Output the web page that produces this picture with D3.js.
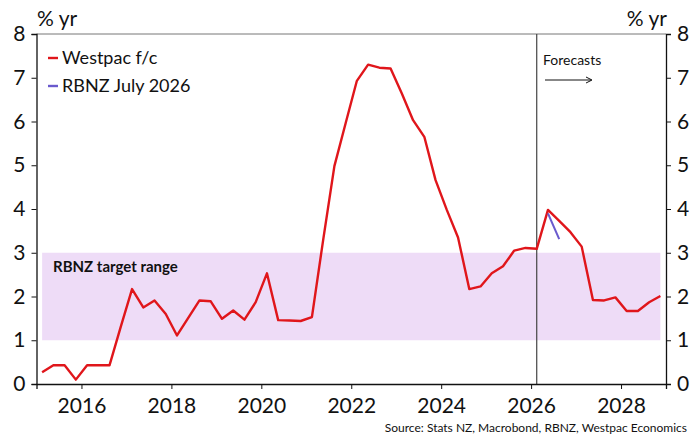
<!DOCTYPE html>
<html>
<head>
<meta charset="utf-8">
<script src="https://cdn.jsdelivr.net/npm/d3@7"></script>
<style>
  body { margin: 0; background: #fff; }
  svg text { font-family: Lato, "Open Sans", sans-serif; fill: #111; }
</style>
</head>
<body>
<div id="chart"></div>
<script>
// quarterly, starting 2015 Q1
const startYear = 2015;
const westpac = [
  0.27, 0.43, 0.43, 0.10,
  0.43, 0.43, 0.43, 1.31,
  2.17, 1.75, 1.91, 1.60,
  1.11, 1.51, 1.91, 1.89,
  1.49, 1.68, 1.47, 1.87,
  2.53, 1.46, 1.45, 1.44,
  1.53, 3.29, 4.98, 5.96,
  6.93, 7.30, 7.23, 7.21,
  6.64, 6.03, 5.65, 4.66,
  3.98, 3.35, 2.17, 2.23,
  2.53, 2.69, 3.05, 3.11,
  3.09, 3.98, 3.73, 3.47,
  3.14, 1.92, 1.91, 1.98,
  1.67, 1.67, 1.87, 2.01
];
// RBNZ July 2026 projection, starts 2026 Q2
const rbnzStart = 45;
const rbnz = [3.90, 3.31];
const forecastStart = 44; // 2026 Q1
const targetBand = [1, 3];
const yTicks = [0, 1, 2, 3, 4, 5, 6, 7, 8];
const xTicks = [2016, 2018, 2020, 2022, 2024, 2026, 2028];

const qDate = i => startYear + i * 0.25 + 0.125;

const width = 696, height = 436;
const margin = { top: 34, right: 30, bottom: 52, left: 36.5 };

const svg = d3.select("#chart").append("svg")
  .attr("width", width).attr("height", height);

const x = d3.scaleLinear().domain([2015, 2029]).range([margin.left, width - margin.right]);
const y = d3.scaleLinear().domain([0, 8]).range([height - margin.bottom, margin.top]);

// target band, spans the data
svg.append("rect")
  .attr("x", x(qDate(0)))
  .attr("width", x(qDate(westpac.length - 1)) - x(qDate(0)))
  .attr("y", y(targetBand[1]))
  .attr("height", y(targetBand[0]) - y(targetBand[1]))
  .attr("fill", "#eedcf7");

svg.append("text")
  .attr("x", 53).attr("y", 272)
  .attr("font-size", 15).attr("font-weight", "bold")
  .text("RBNZ target range");

// top frame line
svg.append("line")
  .attr("x1", x(2015)).attr("x2", x(2029))
  .attr("y1", y(8)).attr("y2", y(8))
  .attr("stroke", "#777").attr("stroke-width", 1);

// forecast divider
svg.append("line")
  .attr("x1", x(qDate(forecastStart))).attr("x2", x(qDate(forecastStart)))
  .attr("y1", y(8)).attr("y2", y(0))
  .attr("stroke", "#444").attr("stroke-width", 1.2);

svg.append("text")
  .attr("x", 543).attr("y", 65)
  .attr("font-size", 14)
  .text("Forecasts");

svg.append("line")
  .attr("x1", 545).attr("x2", 591).attr("y1", 80).attr("y2", 80)
  .attr("stroke", "#111").attr("stroke-width", 1);
svg.append("path")
  .attr("d", "M586,77 L592,80 L586,83")
  .attr("fill", "none").attr("stroke", "#111").attr("stroke-width", 1);

// axes
const yLeft = d3.axisLeft(y).tickValues(yTicks).tickSize(5).tickPadding(6);
const yRight = d3.axisRight(y).tickValues(yTicks).tickSize(5).tickPadding(6);
const xAxis = d3.axisBottom(x).tickValues(xTicks).tickFormat(d3.format("d")).tickSize(5).tickPadding(6);

function styleAxis(g) {
  g.select(".domain").attr("stroke", "#111").attr("stroke-width", 1.3);
  g.selectAll(".tick line").attr("stroke", "#111");
  g.selectAll(".tick text").attr("font-size", 21).attr("fill", "#111")
    .attr("font-family", "Lato, 'Open Sans', sans-serif");
}

svg.append("g").attr("transform", `translate(${x(2015)},0)`).call(yLeft).call(styleAxis);
svg.append("g").attr("transform", `translate(${x(2029)},0)`).call(yRight).call(styleAxis);
svg.append("g").attr("transform", `translate(0,${y(0)})`).call(xAxis).call(styleAxis)
  .selectAll(".tick text").attr("dy", "0.85em");

// unit labels
svg.append("text").attr("x", 37).attr("y", 26).attr("font-size", 21).text("% yr");
svg.append("text").attr("x", 667).attr("y", 26).attr("font-size", 21)
  .attr("text-anchor", "end").text("% yr");

// lines
const line = d3.line().x(d => x(d.t)).y(d => y(d.v));

svg.append("path")
  .datum(westpac.map((v, i) => ({ t: qDate(i), v })))
  .attr("d", line)
  .attr("fill", "none").attr("stroke", "#e0161b").attr("stroke-width", 2.4)
  .attr("stroke-linejoin", "round");

svg.append("path")
  .datum(rbnz.map((v, i) => ({ t: qDate(rbnzStart + i), v })))
  .attr("d", line)
  .attr("fill", "none").attr("stroke", "#6a5acd").attr("stroke-width", 2);

// legend
const legend = [
  { name: "Westpac f/c", color: "#e0161b", yy: 64 },
  { name: "RBNZ July 2026", color: "#6a5acd", yy: 92 }
];
legend.forEach(l => {
  svg.append("line").attr("x1", 48).attr("x2", 58).attr("y1", l.yy - 6).attr("y2", l.yy - 6)
    .attr("stroke", l.color).attr("stroke-width", 2.4);
  svg.append("text").attr("x", 62).attr("y", l.yy).attr("font-size", 18).text(l.name);
});

// source
svg.append("text")
  .attr("x", 687).attr("y", 432).attr("text-anchor", "end")
  .attr("font-size", 12)
  .text("Source: Stats NZ, Macrobond, RBNZ, Westpac Economics");
</script>
</body>
</html>
